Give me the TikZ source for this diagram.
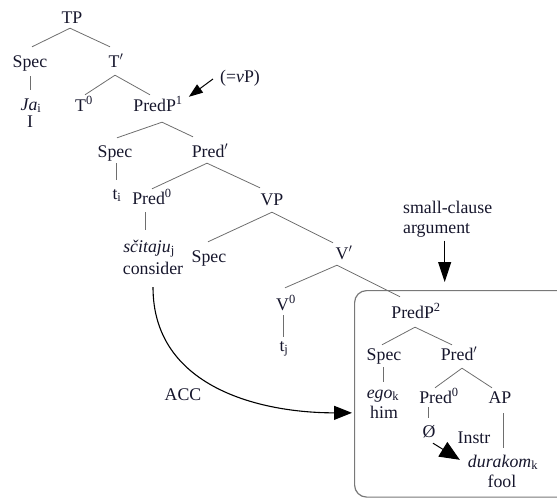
\documentclass[tikz,border=0pt]{standalone}
\usepackage{fontspec}
\setmainfont{Liberation Serif}
\usetikzlibrary{arrows.meta,calc}
\definecolor{ink}{RGB}{22,22,44}
\definecolor{branchgray}{RGB}{110,110,110}
\definecolor{boxgray}{RGB}{120,120,120}

\begin{document}
\begin{tikzpicture}[x=1pt,y=-1pt,
  every node/.style={font=\fontsize{17.8}{20}\selectfont, text=ink, inner sep=0pt},
  lbl/.style={anchor=base, text height=12pt, text depth=4pt},
  branch/.style={draw=branchgray, line width=0.8pt},
  pointer/.style={draw=black, line width=1pt, -{Triangle[length=14pt,width=10pt]}},
  downpointer/.style={draw=black, line width=1pt, -{Triangle[length=20pt,width=13pt]}},
  caseflow/.style={draw=black, line width=1.1pt, -{Triangle[length=18pt,width=14pt]}},
  instrflow/.style={draw=black, line width=1pt, -{Triangle[length=20pt,width=17pt]}}
]
\useasboundingbox (0,0) rectangle (557,498);

% small-clause frame (open to the right and bottom)
\node[draw=boxgray, line width=1.2pt, rounded corners=12pt,
      minimum width=262pt, minimum height=206.5pt, anchor=north west]
      (scbox) at (354,290) {};

% matrix clause
\node[lbl] (tp)       at (72,23)   {TP};
\node[lbl] (spec1)    at (30,67)   {Spec};
\node[lbl] (tbar)     at (116,67)  {T$'$};
\node[lbl] (ja)       at (31,110)  {\textit{Ja}\textsubscript{i}};
\node[lbl] (glossI)   at (30,127)  {I};
\node[lbl] (t0)       at (84,111)  {T\textsuperscript{0}};
\node[lbl] (predp1)   at (158,111) {PredP\textsuperscript{1}};
\node[lbl] (vpnote)   at (240,82)  {(=\textit{v}P)};
\node[lbl] (spec2)    at (115,157) {Spec};
\node[lbl] (predbar1) at (210,157) {Pred$'$};
\node[lbl] (ti)       at (117,199) {t\textsubscript{i}};
\node[lbl] (pred01)   at (152,204) {Pred\textsuperscript{0}};
\node[lbl] (vp)       at (272,205) {VP};
\node[lbl] (scitaju)  at (149,252) {\textit{sčitaju}\textsubscript{j}};
\node[lbl] (consider) at (153,274) {consider};
\node[lbl] (spec3)    at (209,262) {Spec};
\node[lbl] (vbar)     at (344,259) {V$'$};
\node[lbl] (v0)       at (286,310) {V\textsuperscript{0}};
\node[lbl] (tj)       at (284,351) {t\textsubscript{j}};
\node[lbl] (acc)      at (183,400) {ACC};

% small clause
\node[anchor=north west, align=left] (sc) at (403,201) {small-clause\\argument};
\node[lbl] (predp2)   at (416,318) {PredP\textsuperscript{2}};
\node[lbl] (spec4)    at (384,360) {Spec};
\node[lbl] (predbar2) at (459,360) {Pred$'$};
\node[lbl] (ego)      at (383,398) {\textit{ego}\textsubscript{k}};
\node[lbl] (him)      at (384,418) {him};
\node[lbl] (pred02)   at (439,403) {Pred\textsuperscript{0}};
\node[lbl] (ap)       at (500,403) {AP};
\node[lbl] (empty)    at (429,437) {Ø};
\node[lbl] (instr)    at (474,443) {Instr};
\node[lbl] (durakom)  at (503,467) {\textit{durakom}\textsubscript{k}};
\node[lbl] (fool)     at (502,487) {fool};

% tree branches
\draw[branch] ([shift={(-2,1)}]tp.south) -- ([shift={(2,-8)}]spec1.north);
\draw[branch] ([shift={(-2,1)}]tp.south) -- ([shift={(-6,-8)}]tbar.north);
\draw[branch] ([shift={(0,5)}]spec1.south) -- ([shift={(-1,-8)}]ja.north);
\draw[branch] ([shift={(-1,4)}]tbar.south) -- ([shift={(1,-4)}]t0.north);
\draw[branch] ([shift={(-1,4)}]tbar.south) -- ([shift={(-8,-4)}]predp1.north);
\draw[branch] ([shift={(4,7)}]predp1.south) -- ([shift={(2,-7)}]spec2.north);
\draw[branch] ([shift={(4,7)}]predp1.south) -- ([shift={(-17,-8)}]predbar1.north);
\draw[branch] ([shift={(1,2)}]spec2.south) -- ([shift={(-1,-7)}]ti.north);
\draw[branch] ([shift={(-3,2)}]predbar1.south) -- ([shift={(0,-3)}]pred01.north);
\draw[branch] ([shift={(-3,2)}]predbar1.south) -- ([shift={(-12,-5)}]vp.north);
\draw[branch] ([shift={(-7,4)}]pred01.south) -- ([shift={(-4,-10)}]scitaju.north);
\draw[branch] ([shift={(0,3)}]vp.south) -- ([shift={(-1,-8)}]spec3.north);
\draw[branch] ([shift={(0,3)}]vp.south) -- ([shift={(-11,-4)}]vbar.north);
\draw[branch] ([shift={(-7,2)}]vbar.south) -- ([shift={(-1,-10)}]v0.north);
\draw[branch] ([shift={(-7,2)}]vbar.south) -- ([shift={(-16,-9)}]predp2.north);
\draw[branch] ([shift={(-3,1)}]v0.south) -- ([shift={(-1,-2)}]tj.north);
\draw[branch] ([shift={(-1,5)}]predp2.south) -- ([shift={(-2,-3)}]spec4.north);
\draw[branch] ([shift={(-1,5)}]predp2.south) -- ([shift={(-7,-3)}]predbar2.north);
\draw[branch] ([shift={(-1,3)}]spec4.south) -- ([shift={(0,-4)}]ego.north);
\draw[branch] ([shift={(3,4)}]predbar2.south) -- ([shift={(-4,-3)}]pred02.north);
\draw[branch] ([shift={(3,4)}]predbar2.south) -- ([shift={(-8,-3)}]ap.north);
\draw[branch] ([shift={(-11,0)}]pred02.south) -- ([shift={(-1,-7)}]empty.north);
\draw[branch] ([shift={(3,6)}]ap.south) -- ([shift={(0,-7)}]durakom.north);

% annotations
\draw[pointer] ([shift={(-7,1)}]vpnote.west) -- ([shift={(6,-2)}]predp1.north east);
\draw[downpointer] ($(sc.south)+(-3,3)$) -- ($(sc.south |- scbox.north)+(-3,-8)$);
\draw[caseflow] ([shift={(0,9)}]consider.south)
  .. controls +(0,100) and +(-92,0) .. ([shift={(-2,19)}]scbox.west);
\draw[instrflow] ([shift={(4,2)}]empty.south) -- ([shift={(-8,5)}]durakom.north west);
\end{tikzpicture}
\end{document}
